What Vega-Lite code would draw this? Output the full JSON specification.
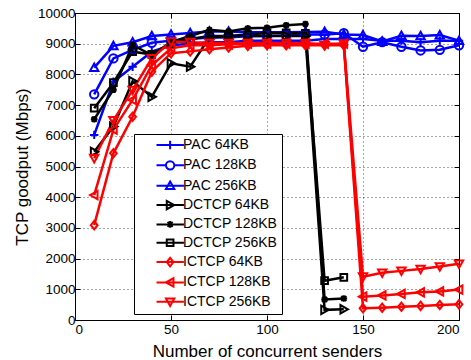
{
  "$schema": "https://vega.github.io/schema/vega-lite/v6.json",
  "width": 384,
  "height": 307,
  "autosize": "none",
  "padding": {"left": 75, "top": 13, "right": 12, "bottom": 40},
  "background": "white",
  "config": {
    "font": "Liberation Sans",
    "view": {"stroke": "black", "strokeWidth": 1},
    "axis": {
      "domainColor": "black",
      "domainWidth": 1,
      "tickColor": "black",
      "labelColor": "black",
      "titleColor": "black",
      "labelFont": "Liberation Sans",
      "titleFont": "Liberation Sans",
      "labelFontSize": 13.5,
      "titleFontSize": 17,
      "titleFontWeight": "normal",
      "gridColor": "black",
      "gridDash": [1, 3],
      "gridOpacity": 0.7,
      "gridWidth": 1
    },
    "legend": {
      "title": null, "orient": "none", "legendX": 59, "legendY": 121,
      "strokeColor": "black", "fillColor": "white", "padding": 4, "cornerRadius": 0,
      "labelFont": "Liberation Sans", "labelFontSize": 14, "labelColor": "black",
      "symbolSize": 70, "symbolStrokeWidth": 2, "symbolOffset": 18, "labelOffset": 13, "rowPadding": 2.35,
      "symbolFillColor": "transparent"
    }
  },
  "data": {
    "values": [
      {"series": "PAC 64KB", "x": 10, "y": 6030}, {"series": "PAC 64KB", "x": 20, "y": 7760}, {"series": "PAC 64KB", "x": 30, "y": 8250}, {"series": "PAC 64KB", "x": 40, "y": 8740}, {"series": "PAC 64KB", "x": 50, "y": 8950}, {"series": "PAC 64KB", "x": 60, "y": 9000}, {"series": "PAC 64KB", "x": 70, "y": 9050}, {"series": "PAC 64KB", "x": 80, "y": 9050}, {"series": "PAC 64KB", "x": 90, "y": 9100}, {"series": "PAC 64KB", "x": 100, "y": 9100}, {"series": "PAC 64KB", "x": 110, "y": 9100}, {"series": "PAC 64KB", "x": 120, "y": 9100}, {"series": "PAC 64KB", "x": 130, "y": 9150}, {"series": "PAC 64KB", "x": 140, "y": 9150}, {"series": "PAC 64KB", "x": 150, "y": 9150}, {"series": "PAC 64KB", "x": 160, "y": 9100}, {"series": "PAC 64KB", "x": 170, "y": 9100}, {"series": "PAC 64KB", "x": 180, "y": 9050}, {"series": "PAC 64KB", "x": 190, "y": 9100}, {"series": "PAC 64KB", "x": 200, "y": 9100},
      {"series": "PAC 128KB", "x": 10, "y": 7350}, {"series": "PAC 128KB", "x": 20, "y": 8520}, {"series": "PAC 128KB", "x": 30, "y": 8800}, {"series": "PAC 128KB", "x": 40, "y": 9030}, {"series": "PAC 128KB", "x": 50, "y": 9100}, {"series": "PAC 128KB", "x": 60, "y": 9150}, {"series": "PAC 128KB", "x": 70, "y": 9200}, {"series": "PAC 128KB", "x": 80, "y": 9200}, {"series": "PAC 128KB", "x": 90, "y": 9250}, {"series": "PAC 128KB", "x": 100, "y": 9250}, {"series": "PAC 128KB", "x": 110, "y": 9270}, {"series": "PAC 128KB", "x": 120, "y": 9300}, {"series": "PAC 128KB", "x": 130, "y": 9300}, {"series": "PAC 128KB", "x": 140, "y": 9340}, {"series": "PAC 128KB", "x": 150, "y": 8900}, {"series": "PAC 128KB", "x": 160, "y": 9050}, {"series": "PAC 128KB", "x": 170, "y": 8900}, {"series": "PAC 128KB", "x": 180, "y": 8780}, {"series": "PAC 128KB", "x": 190, "y": 8800}, {"series": "PAC 128KB", "x": 200, "y": 8950},
      {"series": "PAC 256KB", "x": 10, "y": 8220}, {"series": "PAC 256KB", "x": 20, "y": 8930}, {"series": "PAC 256KB", "x": 30, "y": 9050}, {"series": "PAC 256KB", "x": 40, "y": 9250}, {"series": "PAC 256KB", "x": 50, "y": 9300}, {"series": "PAC 256KB", "x": 60, "y": 9350}, {"series": "PAC 256KB", "x": 70, "y": 9400}, {"series": "PAC 256KB", "x": 80, "y": 9400}, {"series": "PAC 256KB", "x": 90, "y": 9370}, {"series": "PAC 256KB", "x": 100, "y": 9370}, {"series": "PAC 256KB", "x": 110, "y": 9370}, {"series": "PAC 256KB", "x": 120, "y": 9380}, {"series": "PAC 256KB", "x": 130, "y": 9390}, {"series": "PAC 256KB", "x": 140, "y": 9300}, {"series": "PAC 256KB", "x": 150, "y": 9280}, {"series": "PAC 256KB", "x": 160, "y": 9070}, {"series": "PAC 256KB", "x": 170, "y": 9260}, {"series": "PAC 256KB", "x": 180, "y": 9250}, {"series": "PAC 256KB", "x": 190, "y": 9280}, {"series": "PAC 256KB", "x": 200, "y": 9100},
      {"series": "DCTCP 64KB", "x": 10, "y": 5480}, {"series": "DCTCP 64KB", "x": 20, "y": 6300}, {"series": "DCTCP 64KB", "x": 30, "y": 7780}, {"series": "DCTCP 64KB", "x": 40, "y": 7270}, {"series": "DCTCP 64KB", "x": 50, "y": 8360}, {"series": "DCTCP 64KB", "x": 60, "y": 8250}, {"series": "DCTCP 64KB", "x": 70, "y": 9200}, {"series": "DCTCP 64KB", "x": 80, "y": 9250}, {"series": "DCTCP 64KB", "x": 90, "y": 9250}, {"series": "DCTCP 64KB", "x": 100, "y": 9250}, {"series": "DCTCP 64KB", "x": 110, "y": 9250}, {"series": "DCTCP 64KB", "x": 120, "y": 9250}, {"series": "DCTCP 64KB", "x": 130, "y": 330}, {"series": "DCTCP 64KB", "x": 140, "y": 350},
      {"series": "DCTCP 128KB", "x": 10, "y": 6540}, {"series": "DCTCP 128KB", "x": 20, "y": 7500}, {"series": "DCTCP 128KB", "x": 30, "y": 8960}, {"series": "DCTCP 128KB", "x": 40, "y": 8630}, {"series": "DCTCP 128KB", "x": 50, "y": 9050}, {"series": "DCTCP 128KB", "x": 60, "y": 9250}, {"series": "DCTCP 128KB", "x": 70, "y": 9450}, {"series": "DCTCP 128KB", "x": 80, "y": 9400}, {"series": "DCTCP 128KB", "x": 90, "y": 9500}, {"series": "DCTCP 128KB", "x": 100, "y": 9520}, {"series": "DCTCP 128KB", "x": 110, "y": 9600}, {"series": "DCTCP 128KB", "x": 120, "y": 9640}, {"series": "DCTCP 128KB", "x": 130, "y": 670}, {"series": "DCTCP 128KB", "x": 140, "y": 700},
      {"series": "DCTCP 256KB", "x": 10, "y": 6900}, {"series": "DCTCP 256KB", "x": 20, "y": 7730}, {"series": "DCTCP 256KB", "x": 30, "y": 8740}, {"series": "DCTCP 256KB", "x": 40, "y": 8650}, {"series": "DCTCP 256KB", "x": 50, "y": 9000}, {"series": "DCTCP 256KB", "x": 60, "y": 9150}, {"series": "DCTCP 256KB", "x": 70, "y": 9250}, {"series": "DCTCP 256KB", "x": 80, "y": 9250}, {"series": "DCTCP 256KB", "x": 90, "y": 9300}, {"series": "DCTCP 256KB", "x": 100, "y": 9350}, {"series": "DCTCP 256KB", "x": 110, "y": 9350}, {"series": "DCTCP 256KB", "x": 120, "y": 9340}, {"series": "DCTCP 256KB", "x": 130, "y": 1280}, {"series": "DCTCP 256KB", "x": 140, "y": 1390},
      {"series": "ICTCP 64KB", "x": 10, "y": 3090}, {"series": "ICTCP 64KB", "x": 20, "y": 5430}, {"series": "ICTCP 64KB", "x": 30, "y": 6620}, {"series": "ICTCP 64KB", "x": 40, "y": 8090}, {"series": "ICTCP 64KB", "x": 50, "y": 8690}, {"series": "ICTCP 64KB", "x": 60, "y": 8750}, {"series": "ICTCP 64KB", "x": 70, "y": 8820}, {"series": "ICTCP 64KB", "x": 80, "y": 8880}, {"series": "ICTCP 64KB", "x": 90, "y": 8930}, {"series": "ICTCP 64KB", "x": 100, "y": 8950}, {"series": "ICTCP 64KB", "x": 110, "y": 8950}, {"series": "ICTCP 64KB", "x": 120, "y": 8950}, {"series": "ICTCP 64KB", "x": 130, "y": 8950}, {"series": "ICTCP 64KB", "x": 140, "y": 8950}, {"series": "ICTCP 64KB", "x": 150, "y": 380}, {"series": "ICTCP 64KB", "x": 160, "y": 400}, {"series": "ICTCP 64KB", "x": 170, "y": 430}, {"series": "ICTCP 64KB", "x": 180, "y": 460}, {"series": "ICTCP 64KB", "x": 190, "y": 490}, {"series": "ICTCP 64KB", "x": 200, "y": 510},
      {"series": "ICTCP 128KB", "x": 10, "y": 4070}, {"series": "ICTCP 128KB", "x": 20, "y": 6200}, {"series": "ICTCP 128KB", "x": 30, "y": 7170}, {"series": "ICTCP 128KB", "x": 40, "y": 8300}, {"series": "ICTCP 128KB", "x": 50, "y": 8850}, {"series": "ICTCP 128KB", "x": 60, "y": 8950}, {"series": "ICTCP 128KB", "x": 70, "y": 8950}, {"series": "ICTCP 128KB", "x": 80, "y": 8980}, {"series": "ICTCP 128KB", "x": 90, "y": 9000}, {"series": "ICTCP 128KB", "x": 100, "y": 9000}, {"series": "ICTCP 128KB", "x": 110, "y": 9000}, {"series": "ICTCP 128KB", "x": 120, "y": 9000}, {"series": "ICTCP 128KB", "x": 130, "y": 9000}, {"series": "ICTCP 128KB", "x": 140, "y": 9000}, {"series": "ICTCP 128KB", "x": 150, "y": 760}, {"series": "ICTCP 128KB", "x": 160, "y": 800}, {"series": "ICTCP 128KB", "x": 170, "y": 850}, {"series": "ICTCP 128KB", "x": 180, "y": 900}, {"series": "ICTCP 128KB", "x": 190, "y": 930}, {"series": "ICTCP 128KB", "x": 200, "y": 990},
      {"series": "ICTCP 256KB", "x": 10, "y": 5270}, {"series": "ICTCP 256KB", "x": 20, "y": 6500}, {"series": "ICTCP 256KB", "x": 30, "y": 7490}, {"series": "ICTCP 256KB", "x": 40, "y": 8520}, {"series": "ICTCP 256KB", "x": 50, "y": 9070}, {"series": "ICTCP 256KB", "x": 60, "y": 9050}, {"series": "ICTCP 256KB", "x": 70, "y": 9020}, {"series": "ICTCP 256KB", "x": 80, "y": 9020}, {"series": "ICTCP 256KB", "x": 90, "y": 9020}, {"series": "ICTCP 256KB", "x": 100, "y": 9020}, {"series": "ICTCP 256KB", "x": 110, "y": 9020}, {"series": "ICTCP 256KB", "x": 120, "y": 9020}, {"series": "ICTCP 256KB", "x": 130, "y": 8950}, {"series": "ICTCP 256KB", "x": 140, "y": 9000}, {"series": "ICTCP 256KB", "x": 150, "y": 1410}, {"series": "ICTCP 256KB", "x": 160, "y": 1540}, {"series": "ICTCP 256KB", "x": 170, "y": 1600}, {"series": "ICTCP 256KB", "x": 180, "y": 1660}, {"series": "ICTCP 256KB", "x": 190, "y": 1740}, {"series": "ICTCP 256KB", "x": 200, "y": 1830}
    ]
  },
  "layer": [
    {
      "mark": {"type": "line", "strokeWidth": 2.5},
      "encoding": {
        "x": {"field": "x", "type": "quantitative", "scale": {"domain": [0, 200], "nice": false, "zero": false},
              "axis": {"orient": "bottom", "title": "Number of concurrent senders", "values": [0, 50, 100, 150, 200], "format": "d", "tickSize": -5, "labelPadding": 7, "titlePadding": 8, "grid": true}},
        "y": {"field": "y", "type": "quantitative", "scale": {"domain": [0, 10000], "nice": false, "zero": false},
              "axis": {"orient": "left", "title": "TCP goodput (Mbps)", "values": [0, 1000, 2000, 3000, 4000, 5000, 6000, 7000, 8000, 9000, 10000], "format": "d", "tickSize": -5, "labelPadding": 5, "titlePadding": 6, "grid": true}},
        "color": {"field": "series", "type": "nominal",
                  "scale": {"domain": ["PAC 64KB", "PAC 128KB", "PAC 256KB", "DCTCP 64KB", "DCTCP 128KB", "DCTCP 256KB", "ICTCP 64KB", "ICTCP 128KB", "ICTCP 256KB"],
                            "range": ["#0000ff", "#0000ff", "#0000ff", "#000000", "#000000", "#000000", "#ff0000", "#ff0000", "#ff0000"]},
                  "legend": null}
      }
    },
    {
      "mark": {"type": "point", "filled": false, "strokeWidth": 2, "size": 70, "opacity": 1},
      "encoding": {
        "x": {"field": "x", "type": "quantitative", "scale": {"domain": [0, 200], "nice": false, "zero": false}, "axis": {"orient": "top", "labels": false, "title": null, "values": [0, 50, 100, 150, 200], "tickSize": -5, "grid": false}},
        "y": {"field": "y", "type": "quantitative", "scale": {"domain": [0, 10000], "nice": false, "zero": false}, "axis": {"orient": "right", "labels": false, "title": null, "values": [0, 1000, 2000, 3000, 4000, 5000, 6000, 7000, 8000, 9000, 10000], "tickSize": -5, "grid": false}},
        "color": {"field": "series", "type": "nominal",
                  "scale": {"domain": ["PAC 64KB", "PAC 128KB", "PAC 256KB", "DCTCP 64KB", "DCTCP 128KB", "DCTCP 256KB", "ICTCP 64KB", "ICTCP 128KB", "ICTCP 256KB"],
                            "range": ["#0000ff", "#0000ff", "#0000ff", "#000000", "#000000", "#000000", "#ff0000", "#ff0000", "#ff0000"]},
                  "legend": null},
        "shape": {"field": "series", "type": "nominal",
                  "scale": {"domain": ["PAC 64KB", "PAC 128KB", "PAC 256KB", "DCTCP 64KB", "DCTCP 128KB", "DCTCP 256KB", "ICTCP 64KB", "ICTCP 128KB", "ICTCP 256KB"],
                            "range": ["M-1,0H1M0,-1V1", "M1,0A1,1 0 1,1 -1,0A1,1 0 1,1 1,0Z", "M0,-1L1,0.8L-1,0.8Z", "M1,0L-0.8,-1L-0.8,1Z", "M-0.8,0H0.8M0,-0.8V0.8M-0.6,-0.6L0.6,0.6M0.6,-0.6L-0.6,0.6", "M-0.8,-0.8H0.8V0.8H-0.8Z", "M0,-1L0.8,0L0,1L-0.8,0Z", "M-1,0L0.8,-1L0.8,1Z", "M0,1L1,-0.8L-1,-0.8Z"]},
                  "legend": null}
      }
    },
    {
      "transform": [{"filter": "datum.x < 0"}],
      "mark": {"type": "point", "filled": false, "strokeWidth": 2, "size": 70, "opacity": 1},
      "encoding": {
        "x": {"field": "x", "type": "quantitative", "scale": {"domain": [0, 200], "nice": false, "zero": false}, "axis": null},
        "y": {"field": "y", "type": "quantitative", "scale": {"domain": [0, 10000], "nice": false, "zero": false}, "axis": null},
        "color": {"field": "series", "type": "nominal",
                  "scale": {"domain": ["PAC 64KB", "PAC 128KB", "PAC 256KB", "DCTCP 64KB", "DCTCP 128KB", "DCTCP 256KB", "ICTCP 64KB", "ICTCP 128KB", "ICTCP 256KB"],
                            "range": ["#0000ff", "#0000ff", "#0000ff", "#000000", "#000000", "#000000", "#ff0000", "#ff0000", "#ff0000"]}},
        "shape": {"field": "series", "type": "nominal",
                  "scale": {"domain": ["PAC 64KB", "PAC 128KB", "PAC 256KB", "DCTCP 64KB", "DCTCP 128KB", "DCTCP 256KB", "ICTCP 64KB", "ICTCP 128KB", "ICTCP 256KB"],
                            "range": ["M-1.55,0H5M1.7,-1V1", "M-1.55,0H0.7M2.7,0H5M2.7,0A1,1 0 1,1 0.7,0A1,1 0 1,1 2.7,0Z", "M-1.55,0H5M1.7,-1L2.7,0.8L0.7,0.8Z", "M-1.55,0H5M2.7,0L0.9,-1L0.9,1Z", "M-1.55,0H5M1.7,-0.8V0.8M1.1,-0.6L2.3,0.6M2.3,-0.6L1.1,0.6", "M-1.55,0H5M0.9,-0.8H2.5V0.8H0.9Z", "M-1.55,0H5M1.7,-1L2.5,0L1.7,1L0.9,0Z", "M-1.55,0H5M0.7,0L2.5,-1L2.5,1Z", "M-1.55,0H5M1.7,1L2.7,-0.8L0.7,-0.8Z"]}}
      }
    }
  ],
  "resolve": {
    "axis": {"x": "independent", "y": "independent"},
    "scale": {"color": "independent", "shape": "independent"}
  }
}
